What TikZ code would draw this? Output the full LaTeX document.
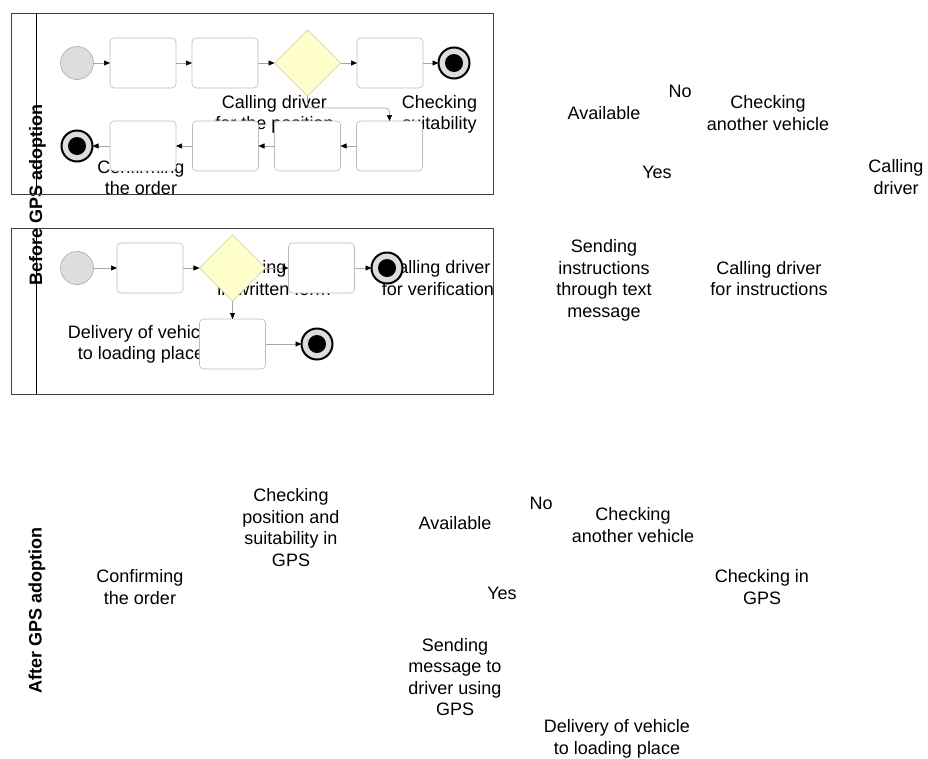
\documentclass[tikz,border=0pt]{standalone}
\usepackage{fontspec}
\setmainfont{Liberation Sans}
\usetikzlibrary{arrows.meta,shapes.geometric}
\definecolor{taskline}{HTML}{BBBBBB}
\definecolor{flowline}{HTML}{A6A6A6}
\definecolor{gatefill}{HTML}{FFFFCC}
\definecolor{gateline}{HTML}{C8C89A}
\definecolor{eventfill}{HTML}{DDDDDD}
\definecolor{eventline}{HTML}{ABABAB}
\definecolor{poolline}{HTML}{404040}

\begin{document}
\begin{tikzpicture}[x=1pt,y=-1pt,
  every node/.style={inner sep=0pt, outer sep=0pt},
  lbl/.style={font=\fontsize{18}{21.5}\selectfont, align=center,
    execute at begin node=\strut, execute at end node=\strut},
  lane/.style={font=\fontsize{18}{21}\selectfont\bfseries, rotate=90, anchor=base},
  task/.style={draw=taskline, fill=white, rounded corners=4pt,
    minimum width=66pt, minimum height=50pt, line width=0.6pt},
  gate/.style={diamond, aspect=1, draw=gateline, fill=gatefill,
    minimum width=66pt, minimum height=66pt, line width=0.6pt},
  startev/.style={circle, draw=eventline, fill=eventfill, minimum size=33pt, line width=0.6pt},
  endev/.style={circle, draw=black, fill=eventfill, minimum size=31pt, line width=2pt},
  enddot/.style={circle, fill=black, minimum size=18pt},
  flow/.style={draw=flowline, line width=0.7pt, rounded corners=4pt,
    -{Triangle[length=6pt,width=5pt,color=black]}},
  pool/.style={draw=poolline, line width=0.9pt},
  laneline/.style={draw=black, line width=0.9pt}]

\useasboundingbox (0,0) rectangle (928,758);

% lane titles (under the pool lines)
\node[lane] (laneA) at (42,195) {Before GPS adoption};
\node[lane] (laneB) at (41.5,610) {After GPS adoption};

% pools
\draw[pool] (11,13) rectangle (493,194);
\draw[laneline] (36,13) -- (36,194);
\draw[pool] (11,228) rectangle (493,394);
\draw[laneline] (36,228) -- (36,394);

% activity captions of the first pool
\node[lbl] (c1) at (274.5,115.5) {Calling driver\\for the position};
\node[lbl] (c2) at (439.5,115.5) {Checking\\suitability};
\node[lbl] (c3) at (141,180.5) {Confirming\\the order};

% activity captions of the second pool
\node[lbl] (c4) at (274,281) {Informing driver\\in written form};
\node[lbl] (c5) at (438,281) {Calling driver\\for verification};
\node[lbl] (c6) at (141,345.5) {Delivery of vehicle\\to loading place};

% free captions, upper right
\node[lbl] (f1) at (604,115) {Available};
\node[lbl] (f2) at (680,93) {No};
\node[lbl] (f3) at (768,116) {Checking\\another vehicle};
\node[lbl] (f4) at (657,174) {Yes};
\node[lbl] (f5) at (896,180) {Calling\\driver};
\node[lbl] (f6) at (604,281.5) {Sending\\instructions\\through text\\message};
\node[lbl] (f7) at (769,281.5) {Calling driver\\for instructions};

% free captions, after GPS adoption
\node[lbl] (h1) at (291,530.5) {Checking\\position and\\suitability in\\GPS};
\node[lbl] (h2) at (455,525) {Available};
\node[lbl] (h3) at (140,590) {Confirming\\the order};
\node[lbl] (h4) at (455,680) {Sending\\message to\\driver using\\GPS};
\node[lbl] (h5) at (541,505) {No};
\node[lbl] (h6) at (633,528) {Checking\\another vehicle};
\node[lbl] (h7) at (502,595) {Yes};
\node[lbl] (h8) at (762,590) {Checking in\\GPS};
\node[lbl] (h9) at (617,740) {Delivery of vehicle\\to loading place};

% first pool: flow elements
\node[startev] (s1) at (77,63) {};
\node[task] (t1) at (143,63) {};
\node[task] (t2) at (225,63) {};
\node[gate] (g1) at (307.5,63) {};
\node[task] (t3) at (390,63) {};
\node[endev] (e1) at (454,63) {};
\node[enddot] (e1d) at (e1) {};
\node[task] (t4) at (389.5,146) {};
\node[task] (t5) at (307.5,146) {};
\node[task] (t6) at (225.5,146) {};
\node[task] (t7) at (143,146) {};
\node[endev] (e2) at (77,146) {};
\node[enddot] (e2d) at (e2) {};
\coordinate (k1) at (389.5,108);

% second pool: flow elements
\node[startev] (s2) at (77,268) {};
\node[task] (u1) at (150,268) {};
\node[gate] (g2) at (232.5,268) {};
\node[task] (u2) at (321.5,268) {};
\node[endev] (e3) at (387,268) {};
\node[enddot] (e3d) at (e3) {};
\node[task] (u3) at (232.5,344) {};
\node[endev] (e4) at (317,344) {};
\node[enddot] (e4d) at (e4) {};

% sequence flows, first pool
\draw[flow] (s1) -- (t1);
\draw[flow] (t1) -- (t2);
\draw[flow] (t2) -- (g1);
\draw[flow] (g1) -- (t3);
\draw[flow] (t3) -- (e1);
\draw[flow] (g1.south) |- (k1) -- (t4.north);
\draw[flow] (t4) -- (t5);
\draw[flow] (t5) -- (t6);
\draw[flow] (t6) -- (t7);
\draw[flow] (t7) -- (e2);

% sequence flows, second pool
\draw[flow] (s2) -- (u1);
\draw[flow] (u1) -- (g2);
\draw[flow] (g2) -- (u2);
\draw[flow] (u2) -- (e3);
\draw[flow] (g2.south) -- (u3.north);
\draw[flow] (u3) -- (e4);
\end{tikzpicture}
\end{document}
